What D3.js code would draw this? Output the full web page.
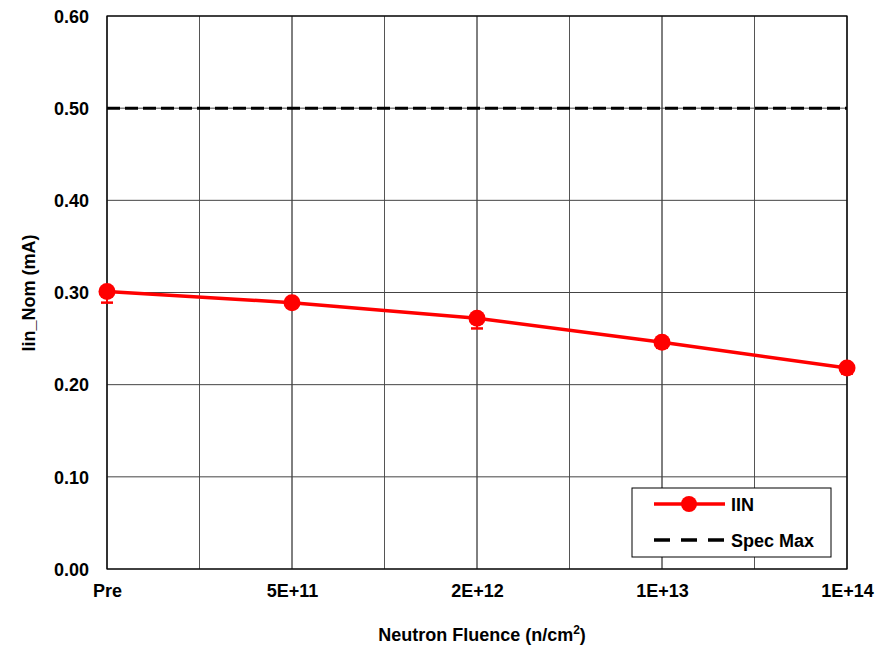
<!DOCTYPE html>
<html><head><meta charset="utf-8">
<script src="https://cdn.jsdelivr.net/npm/d3@7"></script>
<style>body{margin:0;background:#fff}text{font-family:"Liberation Sans",Arial,sans-serif;font-weight:bold;fill:#000}</style>
</head><body><svg id="c" width="877" height="651"></svg>
<script>
const categories = ["Pre","5E+11","2E+12","1E+13","1E+14"];
const iinValues = [0.301, 0.289, 0.272, 0.246, 0.218];
const iinLow = [0.289, 0.289, 0.261, 0.240, 0.212];
const specMax = 0.50;
const yTicks = [0,0.1,0.2,0.3,0.4,0.5,0.6];

const svg = d3.select("#c");
const L=107,R=847,T=16,B=569;
const x = d3.scaleLinear().domain([0,categories.length-1]).range([L,R]);
const y = d3.scaleLinear().domain([0,0.6]).range([B,T]);

// grid
const g = svg.append("g");
for(let i=0;i<=8;i++){
  const xv = x(i/2);
  g.append("line").attr("x1",xv).attr("x2",xv).attr("y1",T).attr("y2",B)
   .attr("stroke", i%2? "#555":"#000").attr("stroke-width",1);
}
yTicks.forEach(t=>{
  g.append("line").attr("x1",L).attr("x2",R).attr("y1",y(t)).attr("y2",y(t))
   .attr("stroke","#444").attr("stroke-width",1);
});
svg.append("rect").attr("x",L).attr("y",T).attr("width",R-L).attr("height",B-T)
  .attr("fill","none").attr("stroke","#000").attr("stroke-width",1.2);

// axes labels
const yAxis = d3.axisLeft(y).tickValues(yTicks).tickFormat(d3.format(".2f")).tickSize(0).tickPadding(18);
const ya = svg.append("g").attr("transform",`translate(${L},0)`).call(yAxis);
ya.select(".domain").remove();
ya.selectAll("text").style("font-size","18px").attr("dy","0.35em");
const xAxis = d3.axisBottom(x).tickValues(d3.range(categories.length)).tickFormat(i=>categories[i]).tickSize(0).tickPadding(15);
const xa = svg.append("g").attr("transform",`translate(0,${B})`).call(xAxis);
xa.select(".domain").remove();
xa.selectAll("text").style("font-size","18px");

// spec max line
svg.append("line").attr("x1",L).attr("x2",R).attr("y1",y(specMax)).attr("y2",y(specMax))
  .attr("stroke","#000").attr("stroke-width",3).attr("stroke-dasharray","13,5");

// error bars
iinValues.forEach((v,i)=>{
  svg.append("line").attr("x1",x(i)).attr("x2",x(i)).attr("y1",y(v)).attr("y2",y(iinLow[i]))
    .attr("stroke","#f00").attr("stroke-width",2);
  svg.append("line").attr("x1",x(i)-6).attr("x2",x(i)+6).attr("y1",y(iinLow[i])).attr("y2",y(iinLow[i]))
    .attr("stroke","#f00").attr("stroke-width",2.5);
});
// line
svg.append("path").datum(iinValues)
  .attr("d",d3.line().x((d,i)=>x(i)).y(d=>y(d)))
  .attr("fill","none").attr("stroke","#f00").attr("stroke-width",3.5);
svg.selectAll(".pt").data(iinValues).enter().append("circle")
  .attr("cx",(d,i)=>x(i)).attr("cy",d=>y(d)).attr("r",8.5).attr("fill","#f00");

// legend
const lg = svg.append("g");
lg.append("rect").attr("x",632).attr("y",488).attr("width",199).attr("height",69)
  .attr("fill","#fff").attr("stroke","#000").attr("stroke-width",1);
lg.append("line").attr("x1",654).attr("x2",725).attr("y1",504).attr("y2",504).attr("stroke","#f00").attr("stroke-width",3.5);
lg.append("circle").attr("cx",689).attr("cy",504).attr("r",8).attr("fill","#f00");
lg.append("text").attr("x",731).attr("y",510.5).style("font-size","18px").text("IIN");
lg.append("line").attr("x1",654).attr("x2",725).attr("y1",540).attr("y2",540).attr("stroke","#000").attr("stroke-width",3.5).attr("stroke-dasharray","16,11");
lg.append("text").attr("x",731).attr("y",546.5).style("font-size","18px").text("Spec Max");

// titles
const xt = svg.append("text").attr("x",482).attr("y",641).attr("text-anchor","middle").style("font-size","18px");
xt.append("tspan").text("Neutron Fluence (n/cm");
xt.append("tspan").attr("dy",-7).style("font-size","12px").text("2");
xt.append("tspan").attr("dy",7).text(")");
svg.append("text").attr("transform","translate(35,293) rotate(-90)").attr("text-anchor","middle")
  .style("font-size","18px").text("Iin_Nom (mA)");
</script></body></html>
